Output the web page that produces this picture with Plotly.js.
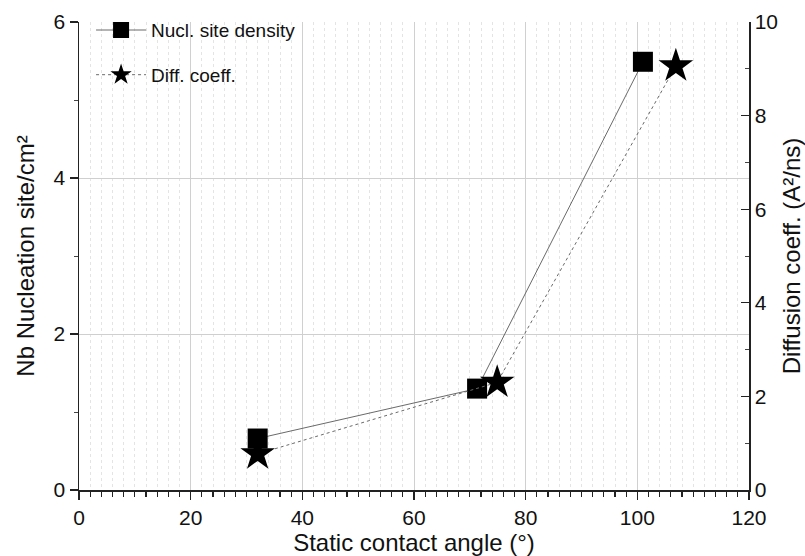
<!DOCTYPE html>
<html>
<head>
<meta charset="utf-8">
<script src="https://cdn.plot.ly/plotly-3.0.1.min.js"></script>
<style>html,body{margin:0;padding:0;background:#fff;}#chart{width:805px;height:556px;}</style>
</head>
<body>
<div id="chart"></div>
<script>
// Data
const nuclAngle = [32, 71.3, 101];
const nuclDensity = [0.66, 1.30, 5.49];
const diffAngle = [32, 74.9, 106.9];
const diffCoeff = [0.77, 2.30, 9.06];
const seriesNames = ["Nucl. site density", "Diff. coeff."];
const xTitle = "Static contact angle (°)";
const yTitle = "Nb Nucleation site/cm²";
const y2Title = "Diffusion coeff. (A²/ns)";

const F = "Liberation Sans, Arial, sans-serif";

const traces = [
  {
    x: nuclAngle, y: nuclDensity, name: seriesNames[0],
    type: "scatter", mode: "lines+markers", legendgroup: "a",
    line: {color: "#6a6a6a", width: 1, dash: "solid"},
    marker: {symbol: "square", size: 20, color: "#000"},
    yaxis: "y"
  },
  {
    x: diffAngle, y: diffCoeff, name: seriesNames[1],
    type: "scatter", mode: "lines+markers", legendgroup: "b",
    line: {color: "#6a6a6a", width: 1, dash: "dot"},
    marker: {symbol: "star", size: 26, color: "#000"},
    yaxis: "y2"
  }
];

const layout = {
  width: 805, height: 556,
  margin: {l: 79, r: 56, t: 21, b: 66},
  paper_bgcolor: "#fff", plot_bgcolor: "#fff",
  font: {family: F, color: "#111", size: 20},
  showlegend: true,
  legend: {
    x: 0.018, y: 1.021, xanchor: "left", yanchor: "top",
    bgcolor: "rgba(0,0,0,0)", font: {family: F, size: 19, color: "#111"},
    traceorder: "grouped", tracegroupgap: 17, itemwidth: 50
  },
  xaxis: {
    range: [0, 120], dtick: 20, tick0: 0,
    showline: true, linecolor: "#222", linewidth: 1.5,
    ticks: "outside", ticklen: 8, tickwidth: 1.5, tickcolor: "#222",
    showgrid: true, gridcolor: "#d0d0d0", gridwidth: 1,
    zeroline: false,
    tickfont: {family: F, size: 21, color: "#111"},
    title: {text: xTitle, font: {family: F, size: 24, color: "#111"}, standoff: 0},
    minor: {dtick: 2, ticks: "outside", ticklen: 5, tickwidth: 1.2, tickcolor: "#222",
            showgrid: true, gridcolor: "#e4e4e4", griddash: "dot", gridwidth: 1}
  },
  yaxis: {
    range: [0, 6], dtick: 2, tick0: 0,
    showline: true, linecolor: "#222", linewidth: 1.5,
    ticks: "outside", ticklen: 8, tickwidth: 1.2, tickcolor: "#222",
    showgrid: true, gridcolor: "#cfcfcf", gridwidth: 1,
    zeroline: false,
    tickfont: {family: F, size: 21, color: "#111"},
    title: {text: yTitle, font: {family: F, size: 24, color: "#111"}, standoff: 12},
    minor: {dtick: 1, ticks: "outside", ticklen: 4, tickwidth: 1, tickcolor: "#444", showgrid: false}
  },
  yaxis2: {
    range: [0, 10], dtick: 2, tick0: 0,
    overlaying: "y", side: "right",
    showline: true, linecolor: "#222", linewidth: 1.5,
    ticks: "inside", ticklen: 8, tickwidth: 1.2, tickcolor: "#222",
    showgrid: false, zeroline: false,
    tickfont: {family: F, size: 21, color: "#111"},
    title: {text: y2Title, font: {family: F, size: 24, color: "#111"}, standoff: 8},
    minor: {dtick: 1, ticks: "inside", ticklen: 4, tickwidth: 1, tickcolor: "#444", showgrid: false}
  }
};

Plotly.newPlot("chart", traces, layout, {displayModeBar: false, staticPlot: true});
</script>
</body>
</html>
